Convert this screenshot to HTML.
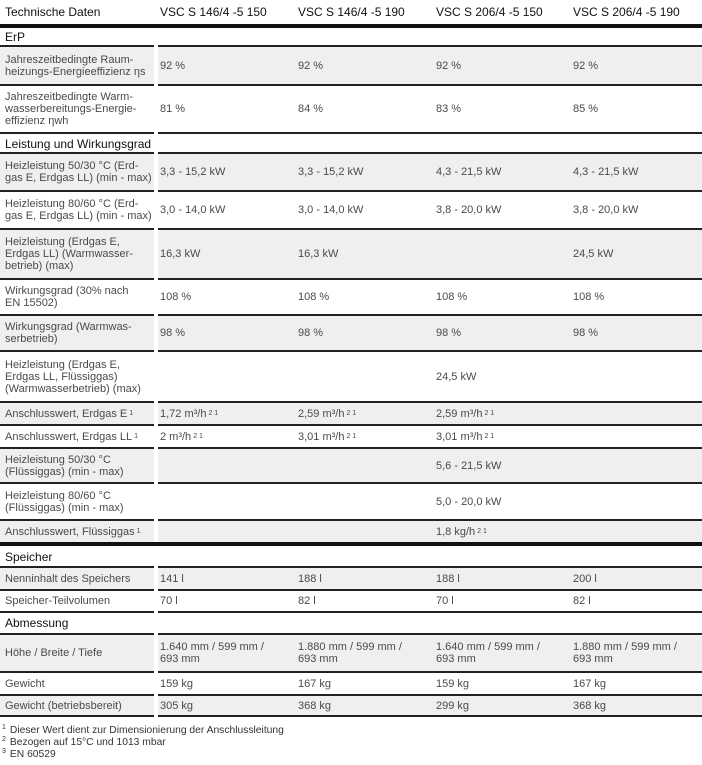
<!DOCTYPE html>
<html><head><meta charset="utf-8"><style>
*{margin:0;padding:0;box-sizing:border-box}
body{width:702px;height:765px;background:#fff;font-family:"Liberation Sans",sans-serif;color:#4a4a4a;font-size:11px;position:relative;overflow:hidden}
.r{position:absolute;left:0;width:702px;display:flex}
.c{border-top:2px solid #222;display:flex;align-items:center;padding-left:4px;line-height:12px;height:100%;white-space:nowrap}
.c1{width:154px;margin-right:4px;padding-left:5px}
.c2{width:138px;padding-left:2px}.c3{width:138px;padding-left:2px}.c4{width:137px;padding-left:2px}.c5{width:131px;padding-left:2px}
.g .c{background:#efeff0}
.s .c{color:#111;font-size:12px}
.h{position:absolute;left:0;top:0;width:702px;height:25px;color:#111;font-size:12px}
.h span{position:absolute;top:5px}
.thick{position:absolute;left:0;width:702px;height:4px;background:#111}
sup{font-size:7px;vertical-align:4px;margin-left:2px}
.fn{position:absolute;left:2px;font-size:10.3px;color:#333}
.fn sup{font-size:7px;margin:0 4px 0 0}
</style></head><body>
<div class="h"><span style="left:5px">Technische Daten</span><span style="left:160px">VSC S 146/4 -5 150</span><span style="left:298px">VSC S 146/4 -5 190</span><span style="left:436px">VSC S 206/4 -5 150</span><span style="left:573px">VSC S 206/4 -5 190</span></div>
<div class="thick" style="top:24px"></div>

<div class="r s" style="top:27px;height:19px"><div class="c" style="width:702px;border:none;padding-left:5px">ErP</div></div>
<div class="r g" style="top:45px;height:39px"><div class="c c1">Jahreszeitbedingte Raum-<br>heizungs-Energieeffizienz ηs</div><div class="c c2">92 %</div><div class="c c3">92 %</div><div class="c c4">92 %</div><div class="c c5">92 %</div></div>
<div class="r" style="top:84px;height:48px"><div class="c c1">Jahreszeitbedingte Warm-<br>wasserbereitungs-Energie-<br>effizienz ηwh</div><div class="c c2">81 %</div><div class="c c3">84 %</div><div class="c c4">83 %</div><div class="c c5">85 %</div></div>
<div class="r s" style="top:132px;height:21px"><div class="c c1">Leistung und Wirkungsgrad</div><div class="c" style="width:544px"></div></div>
<div class="r g" style="top:152px;height:38px"><div class="c c1">Heizleistung 50/30 °C (Erd-<br>gas E, Erdgas LL) (min - max)</div><div class="c c2">3,3 - 15,2 kW</div><div class="c c3">3,3 - 15,2 kW</div><div class="c c4">4,3 - 21,5 kW</div><div class="c c5">4,3 - 21,5 kW</div></div>
<div class="r" style="top:190px;height:38px"><div class="c c1">Heizleistung 80/60 °C (Erd-<br>gas E, Erdgas LL) (min - max)</div><div class="c c2">3,0 - 14,0 kW</div><div class="c c3">3,0 - 14,0 kW</div><div class="c c4">3,8 - 20,0 kW</div><div class="c c5">3,8 - 20,0 kW</div></div>
<div class="r g" style="top:228px;height:50px"><div class="c c1">Heizleistung (Erdgas E,<br>Erdgas LL) (Warmwasser-<br>betrieb) (max)</div><div class="c c2">16,3 kW</div><div class="c c3">16,3 kW</div><div class="c c4"></div><div class="c c5">24,5 kW</div></div>
<div class="r" style="top:278px;height:36px"><div class="c c1">Wirkungsgrad (30% nach<br>EN 15502)</div><div class="c c2">108 %</div><div class="c c3">108 %</div><div class="c c4">108 %</div><div class="c c5">108 %</div></div>
<div class="r g" style="top:314px;height:36px"><div class="c c1">Wirkungsgrad (Warmwas-<br>serbetrieb)</div><div class="c c2">98 %</div><div class="c c3">98 %</div><div class="c c4">98 %</div><div class="c c5">98 %</div></div>
<div class="r" style="top:350px;height:51px"><div class="c c1">Heizleistung (Erdgas E,<br>Erdgas LL, Flüssiggas)<br>(Warmwasserbetrieb) (max)</div><div class="c c2"></div><div class="c c3"></div><div class="c c4">24,5 kW</div><div class="c c5"></div></div>
<div class="r g" style="top:401px;height:23px"><div class="c c1">Anschlusswert, Erdgas E<sup>1</sup></div><div class="c c2">1,72 m³/h<sup>2 1</sup></div><div class="c c3">2,59 m³/h<sup>2 1</sup></div><div class="c c4">2,59 m³/h<sup>2 1</sup></div><div class="c c5"></div></div>
<div class="r" style="top:424px;height:23px"><div class="c c1">Anschlusswert, Erdgas LL<sup>1</sup></div><div class="c c2">2 m³/h<sup>2 1</sup></div><div class="c c3">3,01 m³/h<sup>2 1</sup></div><div class="c c4">3,01 m³/h<sup>2 1</sup></div><div class="c c5"></div></div>
<div class="r g" style="top:447px;height:35px"><div class="c c1">Heizleistung 50/30 °C<br>(Flüssiggas) (min - max)</div><div class="c c2"></div><div class="c c3"></div><div class="c c4">5,6 - 21,5 kW</div><div class="c c5"></div></div>
<div class="r" style="top:482px;height:37px"><div class="c c1">Heizleistung 80/60 °C<br>(Flüssiggas) (min - max)</div><div class="c c2"></div><div class="c c3"></div><div class="c c4">5,0 - 20,0 kW</div><div class="c c5"></div></div>
<div class="r g" style="top:519px;height:24px"><div class="c c1">Anschlusswert, Flüssiggas<sup>1</sup></div><div class="c c2"></div><div class="c c3"></div><div class="c c4">1,8 kg/h<sup>2 1</sup></div><div class="c c5"></div></div>
<div class="thick" style="top:542px"></div>
<div class="r s" style="top:546px;height:21px"><div class="c" style="width:702px;border:none;padding-left:5px">Speicher</div></div>
<div class="r g" style="top:566px;height:23px"><div class="c c1">Nenninhalt des Speichers</div><div class="c c2">141 l</div><div class="c c3">188 l</div><div class="c c4">188 l</div><div class="c c5">200 l</div></div>
<div class="r" style="top:589px;height:22px"><div class="c c1">Speicher-Teilvolumen</div><div class="c c2">70 l</div><div class="c c3">82 l</div><div class="c c4">70 l</div><div class="c c5">82 l</div></div>
<div class="r s" style="top:611px;height:22px"><div class="c c1">Abmessung</div><div class="c" style="width:544px"></div></div>
<div class="r g" style="top:633px;height:38px"><div class="c c1">Höhe / Breite / Tiefe</div><div class="c c2">1.640 mm / 599 mm /<br>693 mm</div><div class="c c3">1.880 mm / 599 mm /<br>693 mm</div><div class="c c4">1.640 mm / 599 mm /<br>693 mm</div><div class="c c5">1.880 mm / 599 mm /<br>693 mm</div></div>
<div class="r" style="top:671px;height:23px"><div class="c c1">Gewicht</div><div class="c c2">159 kg</div><div class="c c3">167 kg</div><div class="c c4">159 kg</div><div class="c c5">167 kg</div></div>
<div class="r g" style="top:694px;height:22px"><div class="c c1">Gewicht (betriebsbereit)</div><div class="c c2">305 kg</div><div class="c c3">368 kg</div><div class="c c4">299 kg</div><div class="c c5">368 kg</div></div>
<div class="r" style="top:715px;height:2px"><div class="c c1"></div><div class="c" style="width:544px"></div></div>

<div class="fn" style="top:724px"><sup>1</sup>Dieser Wert dient zur Dimensionierung der Anschlussleitung</div>
<div class="fn" style="top:736px"><sup>2</sup>Bezogen auf 15°C und 1013 mbar</div>
<div class="fn" style="top:748px"><sup>3</sup>EN 60529</div>
</body></html>
